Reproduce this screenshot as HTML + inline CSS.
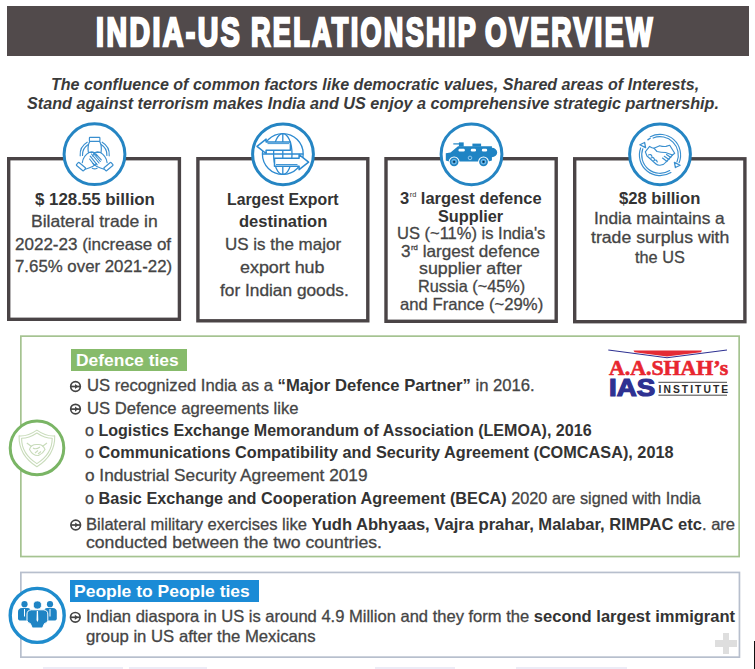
<!DOCTYPE html>
<html><head><meta charset="utf-8"><style>
html,body{margin:0;padding:0;background:#fff;}
body{width:755px;height:669px;position:relative;overflow:hidden;font-family:"Liberation Sans", sans-serif;}
.t{position:absolute;white-space:nowrap;transform-origin:0 0;}
.t b{font-weight:700;color:#333;-webkit-text-stroke:0;}
.bt{-webkit-text-stroke:0.3px currentColor;}
.sup{font-size:0.45em;position:relative;top:-0.95em;font-weight:400;margin-left:0.5px;}
.abs{position:absolute;}
</style></head><body>
<!-- title bar -->
<div class="abs" style="left:7px;top:6px;width:742px;height:50px;background:#514a4b;"></div>
<!-- boxes -->
<svg class="abs" style="left:0;top:0" width="755" height="669">
<rect x="8.70" y="158.70" width="170.70" height="160.60" fill="none" stroke="#4a4446" stroke-width="3.4"/>
<rect x="197.90" y="158.70" width="169.90" height="162.10" fill="none" stroke="#4a4446" stroke-width="3.4"/>
<rect x="386.00" y="158.70" width="170.20" height="162.60" fill="none" stroke="#4a4446" stroke-width="3.4"/>
<rect x="574.70" y="158.80" width="170.20" height="162.90" fill="none" stroke="#4a4446" stroke-width="3.4"/>
</svg>
<!-- icon circles -->
<svg class="abs" style="left:0;top:0" width="755" height="669">
  <g fill="#fff" stroke="#2585c3" stroke-width="3.0">
    <circle cx="94.5" cy="154.2" r="30.4"/>
    <circle cx="283" cy="154.3" r="30.4"/>
    <circle cx="471.5" cy="154.3" r="30.4"/>
    <circle cx="660" cy="154.3" r="30.4"/>
  </g>
</svg>
<!-- green box -->
<svg class="abs" style="left:0;top:0" width="755" height="669"><rect x="20.85" y="336.15" width="718.30" height="220.40" fill="none" stroke="#a5c391" stroke-width="1.7"/></svg>
<div class="abs" style="left:70.6px;top:349.3px;width:116.6px;height:22px;background:#87bb6b;"></div>
<svg class="abs" style="left:0;top:0" width="755" height="669">
  <circle cx="37" cy="447.9" r="26.8" fill="#fff" stroke="#7ab565" stroke-width="3"/>
</svg>
<!-- people box -->
<svg class="abs" style="left:0;top:0" width="755" height="669"><rect x="20.85" y="572.45" width="718.60" height="84.70" fill="none" stroke="#b7bfcd" stroke-width="1.7"/></svg>
<div class="abs" style="left:70.2px;top:580.2px;width:188.5px;height:21.6px;background:#1b8bd6;"></div>
<svg class="abs" style="left:0;top:0" width="755" height="669">
  <circle cx="37.2" cy="615.4" r="27" fill="#fff" stroke="#1f8ccd" stroke-width="3.4"/>
</svg>
<!-- plus sign & misc -->
<div class="abs" style="left:722.7px;top:633px;width:6px;height:21px;background:#dedede;"></div>
<div class="abs" style="left:714.8px;top:640.4px;width:21.8px;height:6.4px;background:#dedede;"></div>
<div class="abs" style="left:753.5px;top:641px;width:1.5px;height:28px;background:#111;"></div>
<div class="abs" style="left:42.7px;top:667px;width:80px;height:2px;background:#ececf6;"></div>
<div class="abs" style="left:129.3px;top:667px;width:78px;height:2px;background:#ececf6;"></div>
<div class="abs" style="left:375px;top:667px;width:80px;height:2px;background:#ececf6;"></div>
<div class="abs" style="left:516px;top:667px;width:111px;height:2px;background:#ececf6;"></div>
<svg class="abs" style="left:0;top:0" width="755" height="669">
 <!-- icon1: hands -->
 <g transform="translate(72,132)" fill="none" stroke="#3a8fcf" stroke-width="1.15" stroke-linejoin="round" stroke-linecap="round">
  <rect x="17.4" y="5.3" width="10.5" height="4.1" rx="0.6"/>
  <path d="M17.8,9.4 C16.2,12 15.8,16 16.3,19.8 M27.6,9.4 C29.2,12 29.6,16 29.1,19.8"/>
  <path d="M15.2,10.2 A14.3,14.3 0 0 0 8.2,23.8"/>
  <path d="M16.3,12.6 A12.2,12.2 0 0 0 10.5,23.4"/>
  <path d="M30.2,10.2 A14.3,14.3 0 0 1 37.2,23.8"/>
  <path d="M29.1,12.6 A12.2,12.2 0 0 1 34.9,23.4"/>
  <g transform="rotate(40 9 34.6)"><rect x="4.3" y="32.7" width="9.4" height="3.9" rx="0.6"/></g>
  <g transform="rotate(-40 36.4 34.6)"><rect x="31.7" y="32.7" width="9.4" height="3.9" rx="0.6"/></g>
  <path d="M10.3,30.6 C11,26 13.5,22.5 17.5,20.3 Q20,19.2 22,20.5 L25,24 M13.3,37.2 Q17,36.3 20.5,34.6 L24.5,31.5"/>
  <path d="M35.1,30.6 C34.4,26 31.9,22.5 27.9,20.3 Q25.4,19.2 23.4,20.5 L20.4,24 M32.1,37.2 Q28.4,36.3 24.9,34.6 L20.9,31.5"/>
  <path d="M16.5,20.5 L29,20.5"/>
  <path d="M19.5,22 L27,31 M21.5,21.5 L28.3,29.5 M23.8,21.8 L29.3,27.8 M18.2,24.2 L25.2,32.8 M17.6,27 L22.5,33.3"/>
  <path d="M20.3,36.3 Q22.7,37.6 25.1,36.3"/>
 </g>
<!-- icon2: globe arrows -->
 <g fill="none" stroke="#2d8ad0" stroke-width="1.3" stroke-linejoin="round">
  <circle cx="282.8" cy="154" r="20.4"/>
  <ellipse cx="282.8" cy="154" rx="9.2" ry="20.4"/>
  <line x1="282.8" y1="133.6" x2="282.8" y2="174.4"/>
  <line x1="262.4" y1="154" x2="303.2" y2="154"/>
  <path d="M257,146.3 L266.1,139.1 L266.1,141.9 L290.4,141.9 L290.4,150.3 L266.1,150.3 L266.1,153.5 Z" fill="#fff" stroke-width="1.5"/>
  <path d="M267.5,143.6 L289,143.6" stroke-width="0.9"/>
  <path d="M308.6,162.2 L299.1,154.6 L299.1,158.2 L274.5,158.2 L274.5,166.2 L299.1,166.2 L299.1,169.7 Z" fill="#fff" stroke-width="1.5"/>
  <path d="M276,164.5 L297.5,164.5" stroke-width="0.9"/>
 </g>
<!-- icon3: vehicle -->
 <g transform="translate(441,136)" fill="#1f84c4">
  <path d="M4.8,17.3 L9.5,16.4 L17,10.3 L50.9,10.3 L50.9,11.8 A5.2,4.6 0 0 1 50.9,21.2 L50.9,24.6 L47.5,25.4 L8,25.4 L4.8,24.6 Z"/>
  <rect x="17.9" y="6.4" width="4.8" height="4.2"/>
  <rect x="12.3" y="7.3" width="5.8" height="1.2"/>
  <rect x="31.4" y="7.6" width="8.7" height="3"/>
  <g fill="#fff">
   <rect x="17.5" y="12.7" width="6.3" height="2.8" rx="1.2"/>
   <rect x="29.8" y="12.7" width="5.2" height="2.8" rx="1.2"/>
   <rect x="40.9" y="12.7" width="5.2" height="2.8" rx="1.2"/>
  </g>
  <circle cx="13.1" cy="25.8" r="5.4" fill="#fff"/>
  <circle cx="42.5" cy="25.8" r="5.4" fill="#fff"/>
  <circle cx="13.1" cy="25.8" r="4.4"/>
  <circle cx="42.5" cy="25.8" r="4.4"/>
  <circle cx="13.1" cy="25.8" r="2.7" fill="#7fc0ea"/>
  <circle cx="42.5" cy="25.8" r="2.7" fill="#7fc0ea"/>
  <circle cx="13.1" cy="25.8" r="1.7" fill="#1f84c4"/>
  <circle cx="42.5" cy="25.8" r="1.7" fill="#1f84c4"/>
  <circle cx="13.1" cy="25.8" r="0.9" fill="#10243a"/>
  <circle cx="42.5" cy="25.8" r="0.9" fill="#10243a"/>
  <circle cx="29" cy="21.9" r="1.8" fill="none" stroke="#9fd0f0" stroke-width="0.9"/>
 </g>
<!-- icon4: handshake in circular arrows -->
 <g fill="none" stroke="#3a8fcf" stroke-width="1.15" stroke-linejoin="round" stroke-linecap="round">
  <path d="M650.33,136.81 A20.6,20.6 0 0 1 679.10,162.72 M653.14,138.03 A18.3,18.3 0 0 1 676.97,161.86"/>
  <path d="M670.92,172.47 A20.6,20.6 0 0 1 640.64,147.95 M669.70,170.52 A18.3,18.3 0 0 1 642.80,148.74"/>
  <path d="M648.06,139.71 A19.4,19.4 0 0 1 650.01,138.37" stroke-width="1.6"/>
  <path d="M675.40,167.51 L680.14,165.26 L674.43,162.35 Z" fill="#fff" stroke-width="1.3"/>
  <path d="M644.60,142.49 L639.86,144.74 L645.57,147.65 Z" fill="#fff" stroke-width="1.3"/>
  <g transform="translate(636,131)">
   <path d="M9.3,20.8 L13.6,15.4 Q16,17 17.9,17.2 L23.7,14.7 Q27,15.8 30,15.4 L33.7,14.3 L38.7,22.2 L36.5,24 Q33,28 30,31 Q28,33.7 25,34 Q22,34.8 20,33 L11,25 Z"/>
   <path d="M17.9,17.2 L21,20.5 Q25,21.5 29.5,21.5 L36.5,24"/>
   <path d="M12.5,24 Q15,22.5 16,25.5 M15,27 Q17.5,25.5 18.5,28.5 M17.8,29.5 Q20.3,28 21.3,31 M26.5,27 L31,30.5 M28.3,25.3 L33,28.5 M30.5,23.5 L34.8,26.5"/>
  </g>
 </g>
<!-- shield faint -->
 <g fill="none" stroke="#c9dcbb" stroke-width="1.1" stroke-linejoin="round">
  <path d="M36.9,430.1 Q28,436.5 19.1,435.9 Q18.5,455 36.9,466.7 Q55.3,455 54.7,435.9 Q45.8,436.5 36.9,430.1 Z"/>
  <path d="M36.9,433 Q29,438.3 21.6,438.3 Q21.5,454 36.9,463.6 Q52.3,454 52.2,438.3 Q44.8,438.3 36.9,433 Z"/>
  <path d="M26.8,443 L31.5,446.5 M47,443 L42.3,446.5"/>
  <path d="M29.5,449.5 Q31,444 37.5,444.5 Q43,444 45,449.5 Q43,453.5 38.5,455.5 Q33,456 29.5,449.5 Z"/>
  <path d="M33,448 Q36,450 40,447 M35,453 L38,450.5 M38,454 L41,451.5"/>
 </g>
 <!-- people icon -->
 <g fill="#1f84c4">
  <circle cx="24.5" cy="604.2" r="3.1"/>
  <circle cx="50" cy="604.2" r="3.1"/>
  <path d="M18,612 Q18,608.3 22,608 L27.5,608 Q31,608.3 31,612 L31,620.5 L19.5,620.5 Q18,620 18,618.5 Z"/>
  <path d="M56.8,612 Q56.8,608.3 52.8,608 L47.3,608 Q43.8,608.3 43.8,612 L43.8,620.5 L55.3,620.5 Q56.8,620 56.8,618.5 Z"/>
  <path d="M27,614 Q27,610.2 31.5,609.8 L43.3,609.8 Q47.8,610.2 47.8,614 L47.8,620.5 Q47.5,623 44.5,623.5 L42.5,628 L32.3,628 L30.3,623.5 Q27.3,623 27,620.5 Z" stroke="#fff" stroke-width="1"/>
  <circle cx="37.4" cy="605" r="4.1" stroke="#fff" stroke-width="0.8"/>
  <g fill="#fff"><path d="M36.8,611 L38,611 L38.3,620 L37.4,622 L36.5,620 Z"/><rect x="24" y="609" width="1" height="7.5"/><rect x="49.5" y="609" width="1" height="7.5"/></g>
 </g>
</svg>
<svg class="abs" style="left:0;top:0" width="755" height="669">
<g transform="translate(75.5,386.5)"><circle cx="0" cy="0" r="4.8" fill="none" stroke="#444" stroke-width="1.7"/><line x1="-4.8" y1="0" x2="4.8" y2="0" stroke="#444" stroke-width="1.7"/><path d="M-0.5,-2.6 L2.8,0 L-0.5,2.6 Z" fill="#444"/></g>
<g transform="translate(75.5,409.1)"><circle cx="0" cy="0" r="4.8" fill="none" stroke="#444" stroke-width="1.7"/><line x1="-4.8" y1="0" x2="4.8" y2="0" stroke="#444" stroke-width="1.7"/><path d="M-0.5,-2.6 L2.8,0 L-0.5,2.6 Z" fill="#444"/></g>
<g transform="translate(75.7,525)"><circle cx="0" cy="0" r="4.8" fill="none" stroke="#444" stroke-width="1.7"/><line x1="-4.8" y1="0" x2="4.8" y2="0" stroke="#444" stroke-width="1.7"/><path d="M-0.5,-2.6 L2.8,0 L-0.5,2.6 Z" fill="#444"/></g>
<g transform="translate(75.3,617.3)"><circle cx="0" cy="0" r="4.8" fill="none" stroke="#444" stroke-width="1.7"/><line x1="-4.8" y1="0" x2="4.8" y2="0" stroke="#444" stroke-width="1.7"/><path d="M-0.5,-2.6 L2.8,0 L-0.5,2.6 Z" fill="#444"/></g>
</svg>
<svg class="abs" style="left:0;top:0" width="755" height="669">
 <path d="M633.5,350.4 L702,350.4 L701,352.2 L667,356.6 L634.5,352.2 Z" fill="#e42b35"/>
 <path d="M608.3,350 L667,357.8 L727,350" fill="none" stroke="#2e3192" stroke-width="1.1"/>
 <line x1="658.4" y1="382.3" x2="727" y2="382.3" stroke="#333" stroke-width="0.9"/>
 <line x1="658.4" y1="395.2" x2="727" y2="395.2" stroke="#333" stroke-width="0.9"/>
</svg>
<div class="abs" style="left:609px;top:358px;font-family:'Liberation Serif',serif;font-weight:700;font-size:21px;line-height:21px;color:#e8262f;white-space:nowrap;transform-origin:0 0;transform:scaleX(1.04);-webkit-text-stroke:0.6px #e8262f;">A.A.SHAH’s</div>
<div class="abs" style="left:608.5px;top:377px;font-family:'Liberation Sans',sans-serif;font-weight:700;font-size:23.5px;line-height:23.5px;color:#2e3192;white-space:nowrap;transform-origin:0 0;transform:scaleX(1.18);-webkit-text-stroke:1.2px #2e3192;">IAS</div>
<div class="abs" style="left:658.5px;top:384.5px;font-family:'Liberation Sans',sans-serif;font-weight:700;font-size:10.3px;line-height:10.3px;color:#2a2a2a;white-space:nowrap;letter-spacing:2.05px;">INSTITUTE</div>

<div class="t" style="left:96.11px;top:12.42px;font-size:40.5px;line-height:40.5px;font-weight:700;color:#ffffff;-webkit-text-stroke:2.6px #ffffff;letter-spacing:3.5px;transform:scaleX(0.7035)"><span>INDIA-US</span></div>
<div class="t" style="left:250.57px;top:12.42px;font-size:40.5px;line-height:40.5px;font-weight:700;color:#ffffff;-webkit-text-stroke:2.6px #ffffff;letter-spacing:3.5px;transform:scaleX(0.6669)"><span>RELATIONSHIP</span></div>
<div class="t" style="left:485.10px;top:12.42px;font-size:40.5px;line-height:40.5px;font-weight:700;color:#ffffff;-webkit-text-stroke:2.6px #ffffff;letter-spacing:3.5px;transform:scaleX(0.6912)"><span>OVERVIEW</span></div>
<div class="t" style="left:50.60px;top:77.38px;font-size:16.8px;line-height:16.8px;font-weight:700;color:#3a3a3a;font-style:italic;transform:scaleX(0.9572)"><span>The confluence of common factors like democratic values, Shared areas of Interests,</span></div>
<div class="t" style="left:27.20px;top:96.28px;font-size:16.8px;line-height:16.8px;font-weight:700;color:#3a3a3a;font-style:italic;transform:scaleX(0.9636)"><span>Stand against terrorism makes India and US enjoy a comprehensive strategic partnership.</span></div>
<div class="t" style="left:34.60px;top:190.63px;font-size:16.5px;line-height:16.5px;font-weight:700;color:#333333;transform:scaleX(1.0214)"><span>$ 128.55 billion</span></div>
<div class="t bt" style="left:31.20px;top:212.93px;font-size:16.5px;line-height:16.5px;font-weight:400;color:#454545;transform:scaleX(1.0626)"><span>Bilateral trade in</span></div>
<div class="t bt" style="left:15.20px;top:235.93px;font-size:16.5px;line-height:16.5px;font-weight:400;color:#454545;transform:scaleX(1.0313)"><span>2022-23 (increase of</span></div>
<div class="t bt" style="left:15.20px;top:258.03px;font-size:16.5px;line-height:16.5px;font-weight:400;color:#454545;transform:scaleX(1.0194)"><span>7.65% over 2021-22)</span></div>
<div class="t" style="left:226.80px;top:190.63px;font-size:16.5px;line-height:16.5px;font-weight:700;color:#333333;transform:scaleX(0.9583)"><span>Largest Export</span></div>
<div class="t" style="left:238.50px;top:213.23px;font-size:16.5px;line-height:16.5px;font-weight:700;color:#333333;transform:scaleX(1.0032)"><span>destination</span></div>
<div class="t bt" style="left:224.60px;top:235.93px;font-size:16.5px;line-height:16.5px;font-weight:400;color:#454545;transform:scaleX(1.0293)"><span>US is the major</span></div>
<div class="t bt" style="left:240.10px;top:258.53px;font-size:16.5px;line-height:16.5px;font-weight:400;color:#454545;transform:scaleX(1.0836)"><span>export hub</span></div>
<div class="t bt" style="left:219.60px;top:281.53px;font-size:16.5px;line-height:16.5px;font-weight:400;color:#454545;transform:scaleX(1.0478)"><span>for Indian goods.</span></div>
<div class="t" style="left:399.80px;top:190.13px;font-size:16.5px;line-height:16.5px;font-weight:700;color:#333333;transform:scaleX(0.9977)"><span>3<span class="sup">rd</span> largest defence</span></div>
<div class="t" style="left:437.60px;top:208.03px;font-size:16.5px;line-height:16.5px;font-weight:700;color:#333333;transform:scaleX(0.9876)"><span>Supplier</span></div>
<div class="t bt" style="left:397.10px;top:225.43px;font-size:16.5px;line-height:16.5px;font-weight:400;color:#454545;transform:scaleX(1.0007)"><span>US (~11%) is India's</span></div>
<div class="t bt" style="left:401.00px;top:243.03px;font-size:16.5px;line-height:16.5px;font-weight:400;color:#454545;transform:scaleX(1.0381)"><span>3<span class="sup">rd</span> largest defence</span></div>
<div class="t bt" style="left:419.20px;top:260.43px;font-size:16.5px;line-height:16.5px;font-weight:400;color:#454545;transform:scaleX(1.0798)"><span>supplier after</span></div>
<div class="t bt" style="left:418.10px;top:277.63px;font-size:16.5px;line-height:16.5px;font-weight:400;color:#454545;transform:scaleX(0.9865)"><span>Russia (~45%)</span></div>
<div class="t bt" style="left:399.80px;top:295.53px;font-size:16.5px;line-height:16.5px;font-weight:400;color:#454545;transform:scaleX(1.0106)"><span>and France (~29%)</span></div>
<div class="t" style="left:618.70px;top:190.03px;font-size:16.5px;line-height:16.5px;font-weight:700;color:#333333;transform:scaleX(1.0076)"><span>$28 billion</span></div>
<div class="t bt" style="left:594.30px;top:209.93px;font-size:16.5px;line-height:16.5px;font-weight:400;color:#454545;transform:scaleX(1.0477)"><span>India maintains a</span></div>
<div class="t bt" style="left:591.00px;top:229.43px;font-size:16.5px;line-height:16.5px;font-weight:400;color:#454545;transform:scaleX(1.0695)"><span>trade surplus with</span></div>
<div class="t bt" style="left:634.70px;top:249.23px;font-size:16.5px;line-height:16.5px;font-weight:400;color:#454545;transform:scaleX(0.9871)"><span>the US</span></div>
<div class="t" style="left:75.80px;top:351.91px;font-size:17px;line-height:17px;font-weight:700;color:#ffffff;transform:scaleX(1.0252)"><span>Defence ties</span></div>
<div class="t bt" style="left:86.90px;top:377.33px;font-size:16.5px;line-height:16.5px;font-weight:400;color:#454545;transform:scaleX(1.0085)"><span>US recognized India as a <b>“Major Defence Partner”</b> in 2016.</span></div>
<div class="t bt" style="left:86.90px;top:400.03px;font-size:16.5px;line-height:16.5px;font-weight:400;color:#454545;transform:scaleX(1.0070)"><span>US Defence agreements like</span></div>
<div class="t bt" style="left:85.20px;top:421.83px;font-size:16.5px;line-height:16.5px;font-weight:400;color:#454545;transform:scaleX(0.9739)"><span>o <b>Logistics Exchange Memorandum of Association (LEMOA), 2016</b></span></div>
<div class="t bt" style="left:85.20px;top:444.43px;font-size:16.5px;line-height:16.5px;font-weight:400;color:#454545;transform:scaleX(0.9855)"><span>o <b>Communications Compatibility and Security Agreement (COMCASA), 2018</b></span></div>
<div class="t bt" style="left:85.20px;top:467.03px;font-size:16.5px;line-height:16.5px;font-weight:400;color:#454545;transform:scaleX(1.0441)"><span>o Industrial Security Agreement 2019</span></div>
<div class="t bt" style="left:85.20px;top:489.93px;font-size:16.5px;line-height:16.5px;font-weight:400;color:#454545;transform:scaleX(0.9843)"><span>o <b>Basic Exchange and Cooperation Agreement (BECA)</b> 2020 are signed with India</span></div>
<div class="t bt" style="left:85.70px;top:515.53px;font-size:16.5px;line-height:16.5px;font-weight:400;color:#454545;transform:scaleX(1.0040)"><span>Bilateral military exercises like <b>Yudh Abhyaas, Vajra prahar, Malabar, RIMPAC etc</b>. are</span></div>
<div class="t bt" style="left:85.70px;top:533.53px;font-size:16.5px;line-height:16.5px;font-weight:400;color:#454545;transform:scaleX(1.0682)"><span>conducted between the two countries.</span></div>
<div class="t" style="left:74.20px;top:582.71px;font-size:17px;line-height:17px;font-weight:700;color:#ffffff;transform:scaleX(1.0281)"><span>People to People ties</span></div>
<div class="t bt" style="left:85.80px;top:607.93px;font-size:16.5px;line-height:16.5px;font-weight:400;color:#454545;transform:scaleX(1.0025)"><span>Indian diaspora in US is around 4.9 Million and they form the <b>second largest immigrant</b></span></div>
<div class="t bt" style="left:85.80px;top:627.53px;font-size:16.5px;line-height:16.5px;font-weight:400;color:#454545;transform:scaleX(1.0131)"><span>group in US after the Mexicans</span></div>
</body></html>
